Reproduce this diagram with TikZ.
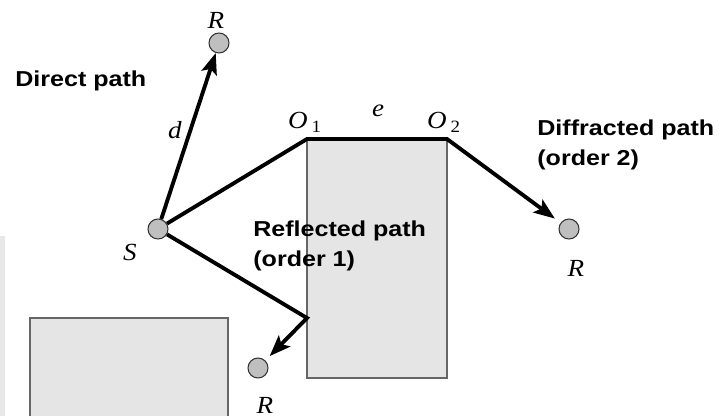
\documentclass[tikz,border=0pt]{standalone}
\usepackage{fontspec}
\setmainfont{Liberation Serif}
\newfontfamily\labelfont{Liberation Sans}[FakeStretch=1.16]
\newfontfamily\symfont{Liberation Serif}[FakeStretch=1.1]
\usetikzlibrary{arrows.meta}

\tikzset{
    building/.style={fill=black!10, draw=black!60, line width=0.8pt},
    ray/.style={black, line width=2.2pt, line join=miter},
    rayarrow/.style={ray, -{Stealth[length=12pt, width=9pt, inset=2.5pt]}},
    point/.style={circle, fill=black!25, draw=black!80, line width=0.6pt, minimum size=0.4cm, inner sep=0pt},
    tag/.style={font=\symfont\itshape\fontsize{14}{16}\selectfont, inner sep=0pt},
    pathlabel/.style={font=\labelfont\bfseries\fontsize{12.3}{17}\selectfont, align=left, anchor=west, inner sep=0pt}
}

\begin{document}
\begin{tikzpicture}[x=0.02cm, y=-0.02cm]
    \useasboundingbox (0,0) rectangle (719,416);

    % Buildings
    \fill[black!9] (0,236) rectangle (5,416);
    \draw[building] (307,139) rectangle (447,378);
    \draw[building] (30,416) -- (30,318) -- (228,318) -- (228,416);

    % Corners and reflection point
    \coordinate (O1) at (307,139);
    \coordinate (O2) at (447,139);
    \coordinate (P) at (307,318);

    % Source and receivers
    \node[point] (S) at (158,229) {};
    \node[point] (Rd) at (219,43) {};
    \node[point] (Rr) at (258,368) {};
    \node[point] (Rf) at (569,229) {};

    % Paths
    \draw[rayarrow] (S) -- (Rd);
    \draw[rayarrow, shorten >=3.5pt] (S) -- (P) -- (Rr);
    \draw[rayarrow, shorten >=4pt] (S) -- (O1) -- (O2) -- (Rf);

    % Labels
    \node[tag] (lS) at (130,252) {S};
    \node[tag] (lRd) at (216,20) {R};
    \node[tag] (lRr) at (265,405) {R};
    \node[tag] (lRf) at (576,268) {R};
    \node[tag] (ld) at (175,130) {d};
    \node[tag] (le) at (378,111) {e};
    \node[tag] (lO1) at (305,122) {O\,\textsubscript{\upshape 1}};
    \node[tag] (lO2) at (444,122) {O\,\textsubscript{\upshape 2}};

    \node[pathlabel] (direct) at (15,81) {Direct path};
    \node[pathlabel] (reflected) at (253,246) {Reflected path\\(order 1)};
    \node[pathlabel] (diffracted) at (537,145) {Diffracted path\\(order 2)};
\end{tikzpicture}
\end{document}
